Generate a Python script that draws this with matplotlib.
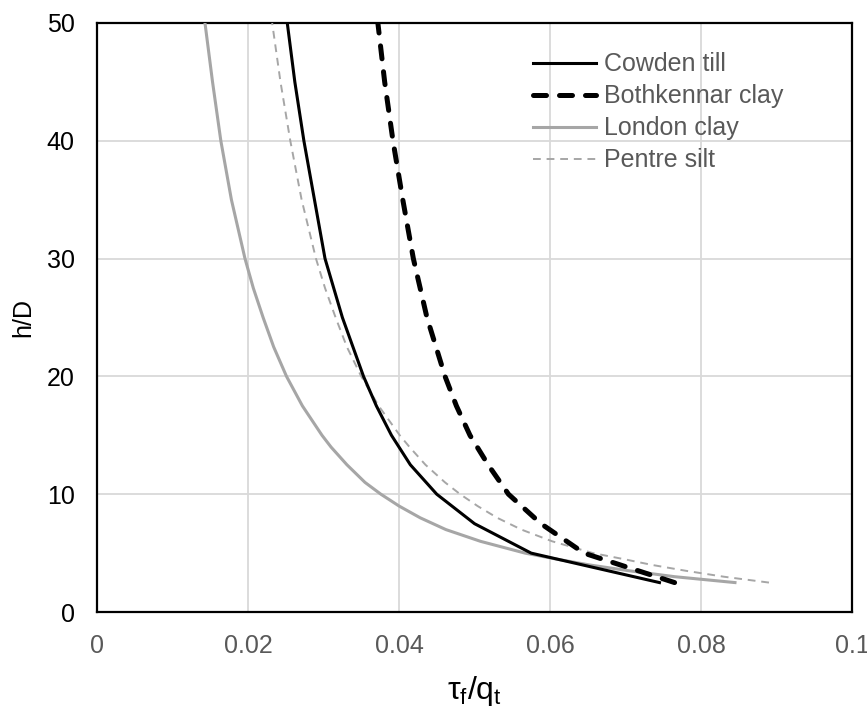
import matplotlib
matplotlib.use("Agg")
import matplotlib.pyplot as plt

plt.rcParams['font.family'] = ['Liberation Sans', 'DejaVu Sans']
plt.rcParams['mathtext.fontset'] = 'custom'
plt.rcParams['mathtext.rm'] = 'Liberation Sans'
plt.rcParams['mathtext.it'] = 'Liberation Sans'

# h/D values (polyline series)
hD = [2.5, 5, 7.5, 10, 12.5, 15, 17.5, 20, 25, 30, 35, 40, 45, 50]
cowden = [0.0745, 0.0575, 0.050, 0.045, 0.0415, 0.039, 0.037, 0.0353,
          0.0325, 0.0302, 0.0288, 0.0274, 0.0262, 0.0252]
bothkennar = [0.0765, 0.0645, 0.0588, 0.0545, 0.0518, 0.0494, 0.0476, 0.0461,
              0.0437, 0.0419, 0.0405, 0.0392, 0.0381, 0.0372]

# smooth curves, read at more h/D points
hD_fine = [2.5, 3, 3.5, 4, 4.5, 5, 6, 7, 8, 9, 10, 11, 12.5, 14, 15, 17.5,
           20, 22.5, 25, 27.5, 30, 35, 40, 45, 50]
london = [0.0845, 0.0765, 0.0705, 0.0652, 0.0608, 0.0567, 0.0508, 0.0462,
          0.0428, 0.0400, 0.0376, 0.0355, 0.0331, 0.0310, 0.0298, 0.0272,
          0.0251, 0.0234, 0.0220, 0.0207, 0.0196, 0.0178, 0.0164, 0.0153, 0.0143]
pentre = [0.0890, 0.0830, 0.0780, 0.0735, 0.0697, 0.0657, 0.0603, 0.0562,
          0.0530, 0.0504, 0.0481, 0.0461, 0.0435, 0.0414, 0.0401, 0.0373,
          0.0350, 0.0331, 0.0316, 0.0302, 0.0290, 0.0271, 0.0256, 0.0243, 0.0232]

xticks = [0, 0.02, 0.04, 0.06, 0.08, 0.1]
xticklabels = ['0', '0.02', '0.04', '0.06', '0.08', '0.1']
yticks = [0, 10, 20, 30, 40, 50]

fig = plt.figure(figsize=(8.67, 7.11), dpi=100)
ax = fig.add_axes([0.1119, 0.1392, 0.8708, 0.8285])

ax.plot(cowden, hD, color='black', lw=2.2, label='Cowden till', zorder=4)
ax.plot(bothkennar, hD, color='black', lw=3.6, ls=(0, (2.6, 2.6)),
        dash_capstyle='round', label='Bothkennar clay', zorder=5)
ax.plot(london, hD_fine, color='#a6a6a6', lw=2.2, label='London clay', zorder=3)
ax.plot(pentre, hD_fine, color='#a6a6a6', lw=1.4, ls=(0, (4, 3)),
        label='Pentre silt', zorder=3)

ax.set_xlim(0, 0.1)
ax.set_ylim(0, 50)
ax.set_xticks(xticks)
ax.set_xticklabels(xticklabels)
ax.set_yticks(yticks)
ax.grid(True, color='#d9d9d9', lw=1.3)
ax.set_axisbelow(True)
for s in ax.spines.values():
    s.set_color('black')
    s.set_linewidth(1.6)

ax.tick_params(axis='x', length=0, pad=16, labelsize=18, labelcolor='#595959')
ax.tick_params(axis='y', length=0, pad=16, labelsize=18, labelcolor='black')

ax.set_xlabel(r'$\mathrm{\tau_f/q_t}$', fontsize=23, labelpad=11)
ax.set_ylabel('h/D', fontsize=18, labelpad=8)

leg = ax.legend(loc='upper left', bbox_to_anchor=(0.5775, 0.95), frameon=False,
                fontsize=18, handlelength=2.5, handletextpad=0.35,
                labelspacing=0.32, borderpad=0, borderaxespad=0)
for t in leg.get_texts():
    t.set_color('#595959')

fig.savefig('out.png', dpi=100)
